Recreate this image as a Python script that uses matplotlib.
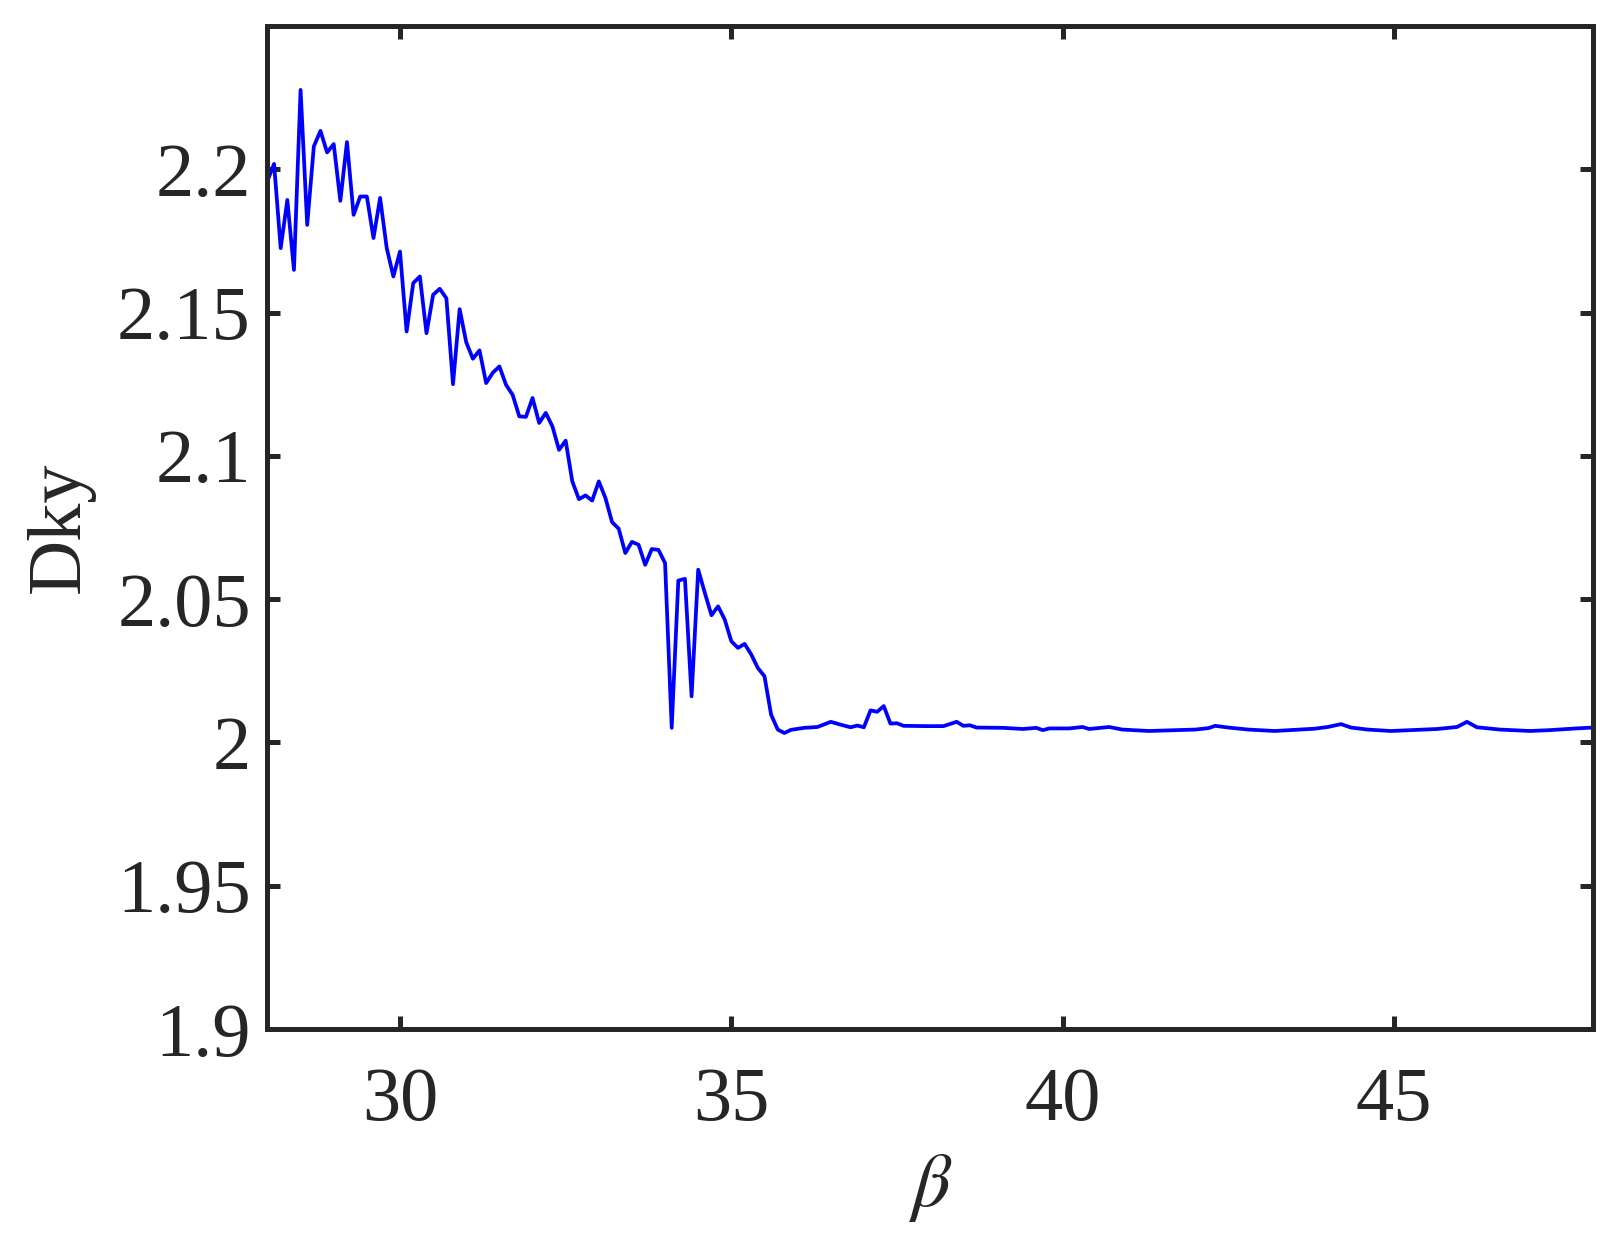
import matplotlib
matplotlib.use('Agg')
import matplotlib.pyplot as plt

# beta values and Kaplan-Yorke dimension
beta = [28.0, 28.1, 28.2, 28.3, 28.4, 28.5, 28.6, 28.7, 28.8, 28.9,
        29.0, 29.1, 29.2, 29.3, 29.4, 29.5, 29.6, 29.7, 29.8, 29.9,
        30.0, 30.1, 30.2, 30.3, 30.4, 30.5, 30.6, 30.7, 30.8, 30.9,
        31.0, 31.1, 31.2, 31.3, 31.4, 31.5, 31.6, 31.7, 31.8, 31.9,
        32.0, 32.1, 32.2, 32.3, 32.4, 32.5, 32.6, 32.7, 32.8, 32.9,
        33.0, 33.1, 33.2, 33.3, 33.4, 33.5, 33.6, 33.7, 33.8, 33.9,
        34.0, 34.1, 34.2, 34.3, 34.4, 34.5, 34.6, 34.7, 34.8, 34.9,
        35.0, 35.1, 35.2, 35.3, 35.4, 35.5, 35.6, 35.7, 35.8, 35.9,
        36.1, 36.3, 36.5, 36.65, 36.8, 36.9, 37.0, 37.1, 37.2, 37.3,
        37.4, 37.5, 37.6, 37.95, 38.2, 38.4, 38.5, 38.6, 38.7, 39.1,
        39.4, 39.6, 39.7, 39.8, 40.1, 40.3, 40.4, 40.7, 40.9, 41.3,
        41.6, 42.0, 42.2, 42.3, 42.5, 42.8, 43.2, 43.8, 44.0, 44.2,
        44.35, 44.6, 44.95, 45.25, 45.65, 45.95, 46.1, 46.25, 46.6, 47.05,
        47.35, 47.75, 48.0]
dky = [2.1960, 2.2019, 2.1725, 2.1893, 2.1649, 2.2277, 2.1806, 2.2080, 2.2134, 2.2059,
       2.2088, 2.1890, 2.2095, 2.1841, 2.1905, 2.1905, 2.1760, 2.1900, 2.1725, 2.1626,
       2.1713, 2.1434, 2.1603, 2.1626, 2.1428, 2.1562, 2.1583, 2.1550, 2.1250, 2.1512,
       2.1396, 2.1339, 2.1368, 2.1254, 2.1290, 2.1312, 2.1248, 2.1213, 2.1138, 2.1136,
       2.1202, 2.1115, 2.1150, 2.1103, 2.1021, 2.1053, 2.0911, 2.0849, 2.0862, 2.0844,
       2.0911, 2.0853, 2.0769, 2.0746, 2.0661, 2.0700, 2.0690, 2.0620, 2.0675, 2.0672,
       2.0626, 2.0051, 2.0565, 2.0571, 2.0161, 2.0603, 2.0522, 2.0444, 2.0475, 2.0429,
       2.0353, 2.0330, 2.0344, 2.0307, 2.0260, 2.0231, 2.0097, 2.0045, 2.0033, 2.0044,
       2.0051, 2.0054, 2.0072, 2.0062, 2.0053, 2.0059, 2.0053, 2.0112, 2.0107, 2.0127,
       2.0066, 2.0067, 2.0058, 2.0057, 2.0057, 2.0072, 2.0058, 2.0060, 2.0052, 2.0051,
       2.0047, 2.0051, 2.0043, 2.0049, 2.0049, 2.0054, 2.0047, 2.0054, 2.0045, 2.0040,
       2.0042, 2.0045, 2.0050, 2.0058, 2.0052, 2.0045, 2.0040, 2.0048, 2.0054, 2.0064,
       2.0052, 2.0045, 2.0040, 2.0043, 2.0047, 2.0054, 2.0072, 2.0053, 2.0045, 2.0040,
       2.0043, 2.0049, 2.0052]

xticks = [30, 35, 40, 45]
yticks = [1.9, 1.95, 2.0, 2.05, 2.1, 2.15, 2.2]
yticklabels = ['1.9', '1.95', '2', '2.05', '2.1', '2.15', '2.2']

dark = '#262626'
plt.rcParams['font.family'] = ['Liberation Serif', 'DejaVu Serif']
plt.rcParams['mathtext.fontset'] = 'stix'

fig = plt.figure(figsize=(16.15, 12.56), dpi=100)
ax = fig.add_axes([0.1656, 0.1807, 0.8207, 0.7986])

ax.plot(beta, dky, color='#0000ff', linewidth=2.7)

ax.set_xlim(28, 48)
ax.set_ylim(1.9, 2.25)
ax.set_xticks(xticks)
ax.set_yticks(yticks)
ax.set_yticklabels(yticklabels)

for s in ax.spines.values():
    s.set_linewidth(3.6)
    s.set_color(dark)

ax.tick_params(axis='both', direction='in', length=9.5, width=3.6, color=dark,
               labelcolor=dark, labelsize=55, top=True, right=True)
ax.tick_params(axis='y', pad=12)
ax.tick_params(axis='x', pad=27)

ax.set_xlabel(r'$\beta$', fontsize=55, color=dark, labelpad=12)
ax.set_ylabel('Dky', fontsize=55, color=dark, labelpad=16)

fig.savefig('out.png', dpi=100, facecolor='white')
